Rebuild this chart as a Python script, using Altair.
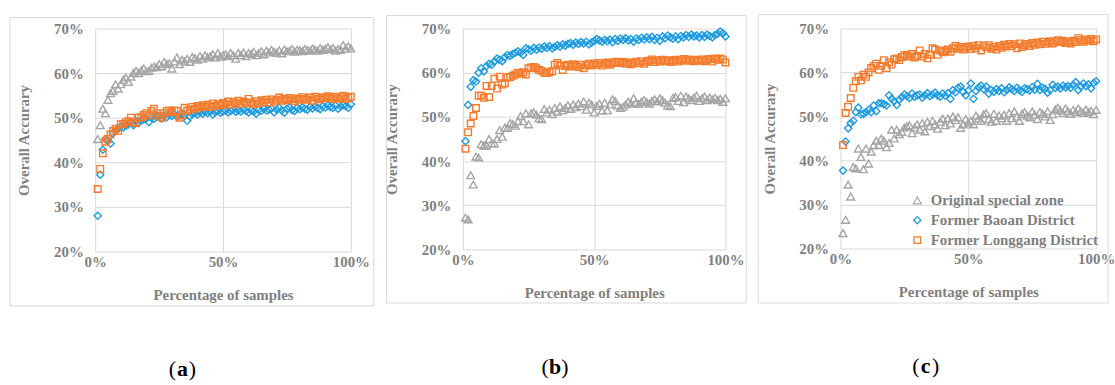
import altair as alt
import pandas as pd

pct = list(range(1, 101))

series_names = ["Original special zone", "Former Baoan District", "Former Longgang District"]
series_colors = ["#A5A5A5", "#1E9BE0", "#F47B2C"]
series_shapes = ["triangle-up", "diamond", "square"]
series_sizes = [62, 44, 64]

# ---------- panel (a) ----------
a_gray = [45.2, 48.3, 52.0, 51.0, 54.0, 55.5, 56.0, 57.5, 56.5, 57.5,
          58.5, 59.0, 58.0, 59.2, 60.0, 60.5, 60.0, 60.6, 61.0, 60.4,
          60.5, 61.2, 61.5, 61.3, 62.0, 61.5, 62.5, 62.0, 62.2, 61.0,
          62.6, 63.5, 62.0, 63.0, 62.6, 63.2, 62.5, 63.6, 63.4, 63.0,
          63.8, 63.2, 64.0, 63.5, 63.8, 64.2, 63.5, 64.5, 63.7, 64.0,
          64.2, 63.8, 64.5, 64.0, 63.2, 64.5, 64.0, 64.6, 63.8, 64.5,
          64.3, 64.8, 64.0, 64.5, 64.9, 64.2, 65.0, 64.6, 65.2, 64.8,
          64.5, 65.1, 64.4, 65.3, 64.9, 65.0, 65.4, 64.8, 65.2, 65.1,
          64.9, 65.4, 65.2, 65.0, 65.5, 65.3, 65.0, 65.6, 65.2, 65.4,
          65.8, 65.3, 65.6, 65.0, 65.4, 65.2, 66.3, 65.5, 66.0, 65.5]
a_blue = [28.0, 37.2, 42.8, 45.2, 44.8, 44.2, 46.5, 47.0, 47.6, 48.0,
          47.8, 48.2, 48.5, 49.0, 48.3, 49.2, 48.8, 49.5, 49.6, 49.8,
          49.0, 50.0, 49.8, 50.2, 50.4, 49.8, 50.5, 50.1, 50.6, 50.4,
          50.8, 50.2, 50.5, 50.9, 50.6, 49.3, 50.3, 50.8, 51.0, 50.7,
          51.2, 50.9, 51.3, 51.0, 51.4, 50.7, 51.2, 51.5, 51.1, 51.4,
          51.6, 51.2, 51.5, 51.8, 51.3, 51.6, 51.4, 51.9, 51.5, 51.2,
          51.7, 51.4, 50.9, 51.8, 51.5, 52.0, 51.6, 51.8, 52.1, 51.2,
          51.8, 52.2, 51.6, 51.1, 52.0, 52.3, 51.7, 51.5, 52.2, 51.9,
          52.3, 52.0, 51.8, 52.4, 52.1, 52.5, 52.2, 51.9, 52.6, 52.3,
          52.8, 52.4, 52.2, 52.7, 52.0, 52.5, 52.8, 52.6, 52.2, 53.0]
a_orange = [34.0, 38.5, 42.0, 44.6, 45.2, 46.2, 47.0, 47.5, 47.0, 48.5,
            48.6, 49.0, 49.2, 50.0, 49.0, 48.8, 50.0, 50.1, 50.6, 51.0,
            50.5, 51.5, 52.0, 51.0, 50.4, 50.0, 51.0, 51.5, 51.6, 51.2,
            51.6, 51.5, 50.0, 50.5, 52.2, 51.6, 51.8, 52.4, 52.0, 52.6,
            52.3, 52.8, 52.5, 52.9, 52.4, 53.2, 52.6, 53.0, 52.8, 53.3,
            53.0, 53.6, 52.9, 53.5, 53.2, 53.8, 53.1, 53.6, 53.3, 54.2,
            53.4, 53.0, 53.7, 53.2, 53.9, 53.5, 54.0, 53.4, 54.1, 53.6,
            54.0, 54.5, 53.8, 54.2, 53.9, 54.4, 54.1, 53.7, 54.3, 54.0,
            54.6, 54.2, 54.0, 54.5, 53.8, 54.7, 54.3, 54.1, 54.6, 54.4,
            54.8, 54.5, 54.2, 54.7, 54.3, 54.6, 54.9, 54.2, 54.5, 54.7]

# ---------- panel (b) ----------
b_gray = [27.2, 26.8, 36.8, 34.7, 41.0, 40.8, 43.8, 43.5, 43.5, 45.0,
          44.0, 44.0, 45.0, 47.0, 45.5, 47.6, 47.5, 48.6, 48.4, 48.0,
          49.0, 50.2, 49.0, 50.8, 48.3, 50.8, 51.0, 50.5, 49.7, 49.5,
          51.8, 51.0, 51.6, 50.6, 52.0, 51.2, 52.4, 51.5, 52.0, 52.6,
          51.8, 52.8, 52.2, 53.0, 52.4, 53.5, 51.6, 53.2, 52.8, 51.0,
          52.5, 53.0, 51.4, 53.2, 51.5, 52.8, 54.0, 53.6, 52.6, 52.0,
          52.3, 52.8, 53.4, 53.0, 54.2, 53.2, 52.9, 53.4, 53.8, 53.3,
          53.0, 53.6, 54.0, 53.5, 54.2, 53.8, 53.2, 52.6, 52.4, 54.3,
          54.5, 53.6, 54.8, 53.3, 54.6, 54.2, 53.8, 54.4, 54.8, 53.6,
          54.2, 54.6, 53.8, 54.4, 54.0, 54.3, 53.8, 54.1, 53.4, 54.2]
b_blue = [44.5, 52.7, 56.8, 58.3, 58.0, 60.0, 61.0, 60.3, 61.5, 62.0,
          61.8, 62.5, 63.2, 62.9, 62.6, 63.5, 64.0, 63.8, 64.2, 64.5,
          64.8, 64.5, 64.0, 65.5, 65.3, 65.0, 65.6, 65.2, 65.7, 65.4,
          65.9, 65.6, 66.0, 65.5, 65.8, 66.2, 65.9, 66.4, 66.1, 66.5,
          66.7, 66.3, 66.8, 66.5, 66.9, 66.6, 67.0, 66.4, 66.8, 67.2,
          67.6, 67.3, 67.0, 67.4, 67.1, 67.5, 66.9, 67.6, 67.2, 67.7,
          67.4, 67.8, 67.3, 67.6, 67.0, 67.7, 67.4, 67.9, 67.5, 68.0,
          67.6, 68.1, 67.4, 67.9, 67.2, 68.2, 67.8, 68.4, 68.0, 67.7,
          68.2, 67.6, 68.3, 68.0, 68.5, 68.1, 68.6, 68.2, 68.4, 68.0,
          68.5, 68.1, 68.6, 68.3, 68.0, 68.5, 68.8, 69.3, 68.9, 68.2]
b_orange = [42.8, 46.5, 48.5, 50.2, 52.0, 54.8, 54.8, 54.3, 57.0, 54.5,
            57.0, 58.6, 56.4, 59.1, 57.3, 57.6, 58.9, 59.0, 59.3, 59.6,
            60.0, 59.8, 60.1, 59.6, 61.0, 61.2, 61.3, 61.0, 60.6, 60.4,
            60.0, 59.9, 60.1, 60.3, 61.8, 62.2, 61.6, 60.6, 61.5, 61.8,
            61.4, 61.9, 61.6, 61.3, 61.8, 61.0, 61.6, 62.0, 61.7, 62.1,
            61.8, 62.2, 61.6, 62.0, 62.3, 61.8, 62.1, 62.4, 62.5, 62.2,
            62.4, 62.0, 62.3, 61.9, 62.2, 62.5, 62.1, 62.6, 62.0, 62.4,
            62.7, 63.0, 62.4, 62.8, 62.5, 62.9, 62.6, 62.8, 62.4, 62.7,
            62.9, 62.5, 62.8, 63.1, 62.7, 63.0, 62.8, 62.6, 62.9, 62.7,
            63.0, 62.6, 62.9, 63.1, 62.5, 63.2, 62.9, 63.2, 63.0, 62.3]

# ---------- panel (c) ----------
c_gray = [23.5, 26.5, 34.5, 31.8, 38.5, 38.2, 42.7, 40.8, 38.0, 42.7,
          39.3, 42.0, 43.5, 44.5, 43.5, 45.0, 44.5, 43.0, 44.0, 47.0,
          45.0, 47.0, 46.0, 46.5, 47.5, 47.8, 48.0, 46.2, 47.5, 48.2,
          47.0, 48.5, 46.6, 48.8, 47.8, 49.0, 48.2, 47.2, 48.8, 49.5,
          48.0, 49.6, 48.4, 50.0, 49.2, 49.8, 47.4, 48.2, 49.4, 48.6,
          49.0, 48.2, 50.2, 49.5, 49.0, 50.5, 50.8, 49.4, 48.8, 50.6,
          49.0, 50.2, 49.6, 50.4, 49.0, 50.8, 49.6, 51.2, 50.0, 49.0,
          50.6, 51.0, 50.2, 49.8, 51.2, 50.4, 49.4, 51.0, 50.6, 50.0,
          51.2, 49.2, 50.5, 51.6, 52.0, 51.4, 50.8, 51.8, 51.2, 50.6,
          51.5, 51.0, 51.8, 51.2, 50.8, 51.6, 51.0, 51.3, 50.5, 51.5]
c_blue = [37.7, 44.3, 47.3, 48.5, 49.0, 51.0, 52.0, 50.5, 50.6, 51.0,
          51.5, 51.0, 52.5, 51.2, 53.0, 53.0, 52.8, 52.5, 54.8, 54.0,
          53.5, 52.6, 53.8, 54.4, 55.0, 54.6, 54.2, 55.2, 54.5, 54.8,
          55.0, 54.3, 54.8, 55.3, 54.6, 55.0, 55.4, 54.8, 54.5, 55.2,
          54.7, 55.3, 54.0, 56.0, 55.5, 56.5, 56.8, 55.6, 54.8, 55.9,
          57.5, 54.0, 55.8, 56.6, 57.0, 56.2, 56.8, 55.2, 56.0, 55.6,
          56.2, 55.8, 56.4, 55.5, 56.0, 56.6, 56.2, 55.8, 56.5, 56.0,
          55.6, 56.4, 56.2, 55.9, 56.7, 56.1, 57.4, 56.0, 56.5, 56.3,
          55.4, 56.0, 57.2, 56.5, 56.8, 56.4, 57.0, 56.6, 56.9, 56.5,
          57.2, 57.8, 56.0, 56.8, 57.5, 56.9, 57.3, 56.4, 57.6, 58.0]
c_orange = [43.5, 50.8, 52.2, 54.2, 56.5, 58.0, 59.0, 58.2, 59.5, 59.0,
            60.0, 61.0, 61.5, 62.0, 60.6, 61.5, 62.8, 61.0, 62.3, 61.8,
            63.0, 63.2, 62.8, 63.5, 64.0, 63.8, 63.6, 64.2, 63.4, 63.8,
            65.0, 63.6, 64.2, 63.2, 64.0, 65.5, 65.2, 64.0, 65.0, 64.6,
            64.8, 65.2, 64.7, 65.5, 66.0, 65.4, 65.8, 65.2, 65.6, 65.9,
            65.3, 66.0, 65.5, 66.2, 65.0, 66.1, 65.7, 66.2, 65.4, 65.8,
            65.2, 66.0, 65.6, 66.3, 65.9, 66.5, 66.0, 66.4, 65.5, 66.6,
            65.8, 66.2, 66.5, 66.0, 66.7, 66.3, 66.8, 66.4, 67.0, 66.5,
            66.8, 67.1, 66.6, 67.0, 67.3, 66.9, 67.2, 66.7, 67.0, 66.6,
            67.2, 66.9, 67.8, 67.4, 67.0, 67.5, 67.2, 67.6, 67.1, 67.5]

y_ticks = [20, 30, 40, 50, 60, 70]
x_ticks = [0, 50, 100]

FONT = "Liberation Serif"
GRAY_TEXT = "#7F7F7F"
GRID = "#D9D9D9"


def make_df(gray, blue, orange):
    rows = []
    for name, vals in zip(series_names, [gray, blue, orange]):
        for p, v in zip(pct, vals):
            rows.append({"pct": p, "acc": v, "series": name})
    return pd.DataFrame(rows)


one = pd.DataFrame({"k": [0]})


def panel(gray, blue, orange, letter, w, h, box, lab_x, lab_y, legend):
    df = make_df(gray, blue, orange)
    if legend:
        leg = alt.Legend(orient="none", legendX=legend[0], legendY=legend[1], title=None,
                         labelFont=FONT, labelFontSize=15, labelFontWeight="bold",
                         labelColor=GRAY_TEXT, symbolStrokeWidth=1.3, symbolSize=55,
                         rowPadding=4, labelOffset=6, padding=0, labelLimit=0)
        color = alt.Color("series:N", scale=alt.Scale(domain=series_names, range=series_colors), legend=leg)
        shape = alt.Shape("series:N", scale=alt.Scale(domain=series_names, range=series_shapes), legend=leg)
    else:
        color = alt.Color("series:N", scale=alt.Scale(domain=series_names, range=series_colors), legend=None)
        shape = alt.Shape("series:N", scale=alt.Scale(domain=series_names, range=series_shapes), legend=None)
    pts = alt.Chart(df).mark_point(filled=False, strokeWidth=1.4, opacity=1).encode(
        x=alt.X("pct:Q", scale=alt.Scale(domain=[0, 100]),
                axis=alt.Axis(values=x_ticks, labelExpr="datum.value + '%'", labelFlush=False,
                              title="Percentage of samples", labelPadding=3, titlePadding=18)),
        y=alt.Y("acc:Q", scale=alt.Scale(domain=[20, 70]),
                axis=alt.Axis(values=y_ticks, labelExpr="datum.value + '%'", labelFlush=False,
                              title="Overall Accurary", labelPadding=12, titlePadding=22)),
        color=color,
        shape=shape,
        size=alt.Size("series:N", scale=alt.Scale(domain=series_names, range=series_sizes), legend=None),
    )
    frame = alt.Chart(one).mark_rect(fillOpacity=0, stroke=GRID, strokeWidth=1).encode(
        x=alt.value(box[0]), x2=alt.value(w + box[1]),
        y=alt.value(box[2]), y2=alt.value(h + box[3]))
    t1 = alt.Chart(one).mark_text(font=FONT, fontSize=22, color="black").encode(
        x=alt.value(lab_x - 10), y=alt.value(lab_y), text=alt.value("("))
    t2 = alt.Chart(one).mark_text(font=FONT, fontSize=22, fontWeight="bold", color="black").encode(
        x=alt.value(lab_x), y=alt.value(lab_y), text=alt.value(letter))
    t3 = alt.Chart(one).mark_text(font=FONT, fontSize=22, color="black").encode(
        x=alt.value(lab_x + 10), y=alt.value(lab_y), text=alt.value(")"))
    return alt.layer(frame, pts, t1, t2, t3).properties(width=w, height=h)


pa = panel(a_gray, a_blue, a_orange, "a", 258, 225, (-86, 23, -11, 55), 88, 344, None)
pb = panel(b_gray, b_blue, b_orange, "b", 265, 223, (-77, 21, -13, 54), 93, 342, None)
pc = panel(c_gray, c_blue, c_orange, "c", 258, 222, (-83, 12, -14, 55), 86, 341, (70, 166))

chart = alt.hconcat(pa, pb, pc, spacing=10).resolve_scale(
    color="independent", shape="independent", size="independent"
).properties(
    padding={"left": 9, "top": 12, "right": 0, "bottom": 0},
    background="white"
).configure_view(stroke=None).configure_axis(
    labelFont=FONT, labelFontSize=15, labelFontWeight="bold", labelColor=GRAY_TEXT,
    titleFont=FONT, titleFontSize=15, titleFontWeight="bold", titleColor=GRAY_TEXT,
    domain=False, ticks=False, gridColor=GRID, gridWidth=1
)

chart.save("out.html", embed_options={"renderer": "svg", "actions": False})
